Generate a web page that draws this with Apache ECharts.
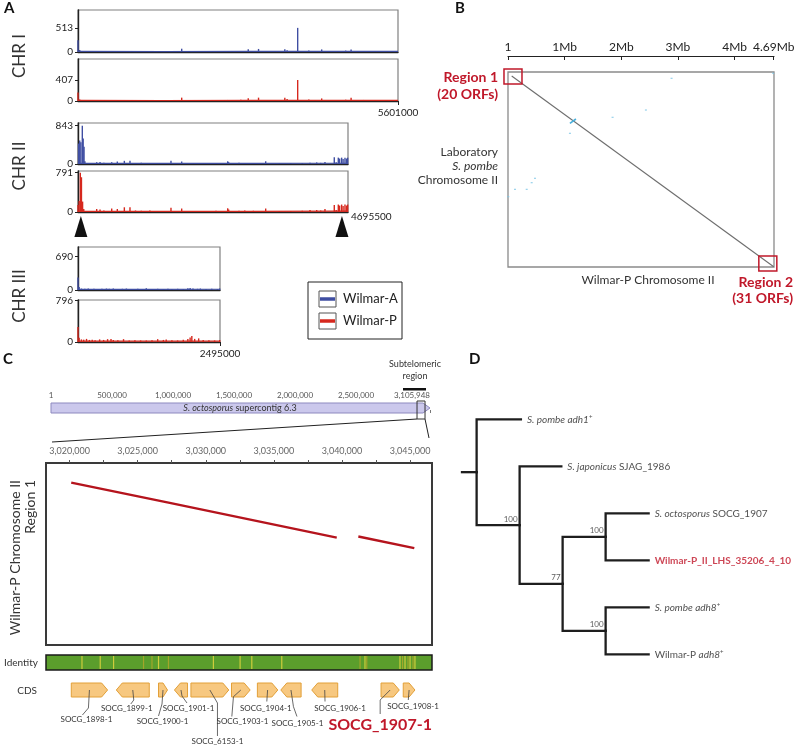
<!DOCTYPE html>
<html><head><meta charset="utf-8">
<script src="https://cdn.jsdelivr.net/npm/echarts@6/dist/echarts.min.js"></script>
<style>html,body{margin:0;padding:0;background:#fff}#c{width:799px;height:747px}</style>
</head><body><div id="c"></div>
<script>
// ================= DATA =================
// ---- Panel A: read depth spikes, [position (Mb), depth] ----
const chrLengthsMb = [5.601, 4.6955, 2.495];
const chrEndLabels = ['5601000', '4695500', '2495000'];
const chrNames = ['CHR I', 'CHR II', 'CHR III'];
// order: CHR I A, CHR I P, CHR II A, CHR II P, CHR III A, CHR III P
const depthLabelValues = [513, 407, 843, 791, 690, 796];
const depthAxisMax = [893, 814, 903, 826, 889, 809];
const strainNames = ['Wilmar-A', 'Wilmar-P'];

const chrI_A = [[0.00,250],[0.03,40],[0.2,10],[0.45,8],[0.7,10],[0.95,8],[1.2,10],[1.45,8],[1.65,10],[1.815,70],[1.95,10],[2.15,12],[2.35,10],[2.55,15],[2.62,18],[2.7,12],[2.85,20],[2.98,60],[3.05,15],[3.16,65],[3.3,15],[3.45,12],[3.62,60],[3.66,35],[3.845,513],[3.9,20],[4.04,30],[4.15,12],[4.265,55],[4.4,15],[4.55,18],[4.685,30],[4.78,55],[4.9,15],[5.0,18],[5.1,15],[5.2,18],[5.3,15],[5.4,12],[5.5,15],[5.58,18]];
const chrI_P = [[0.00,165],[0.03,30],[0.2,12],[0.45,10],[0.7,10],[0.95,10],[1.2,12],[1.45,10],[1.65,12],[1.815,65],[1.95,12],[2.15,15],[2.35,12],[2.55,18],[2.62,20],[2.7,15],[2.85,25],[2.98,55],[3.05,18],[3.16,65],[3.3,18],[3.45,15],[3.62,65],[3.66,40],[3.845,407],[3.9,20],[4.04,30],[4.15,15],[4.265,50],[4.4,18],[4.55,20],[4.685,25],[4.78,65],[4.9,18],[5.0,20],[5.1,18],[5.2,20],[5.3,18],[5.4,15],[5.5,18],[5.58,20]];
const chrII_A = [[0.01,450],[0.03,520],[0.05,480],[0.075,843],[0.09,560],[0.105,380],[0.12,60],[0.325,40],[0.383,45],[0.45,30],[0.586,40],[0.684,55],[0.806,70],[0.904,70],[1.0,20],[1.1,25],[1.25,20],[1.4,15],[1.617,70],[1.803,55],[2.0,20],[2.2,15],[2.4,20],[2.603,60],[2.62,40],[2.8,25],[2.9,20],[3.05,20],[3.264,60],[3.5,15],[3.7,20],[3.9,20],[4.035,30],[4.151,35],[4.22,25],[4.295,45],[4.457,150],[4.49,40],[4.527,140],[4.55,120],[4.585,140],[4.61,110],[4.643,140],[4.67,120],[4.69,140]];
const chrII_P = [[0.0,140],[0.02,220],[0.04,791],[0.06,700],[0.08,210],[0.1,60],[0.325,60],[0.383,50],[0.45,30],[0.586,70],[0.684,60],[0.806,95],[0.904,95],[1.0,30],[1.1,25],[1.25,30],[1.4,20],[1.617,85],[1.803,70],[2.0,20],[2.2,20],[2.4,25],[2.603,75],[2.62,50],[2.8,25],[2.9,30],[3.05,25],[3.264,70],[3.5,20],[3.7,20],[3.9,25],[4.035,40],[4.151,40],[4.22,30],[4.295,60],[4.457,140],[4.49,40],[4.527,150],[4.55,130],[4.585,150],[4.61,120],[4.643,150],[4.67,130],[4.69,150]];
const chrIII_A = [[0.0,260],[0.02,60],[0.06,30],[0.12,25],[0.18,30],[0.22,20],[0.28,25],[0.35,20],[0.42,25],[0.5,30],[0.55,25],[0.62,30],[0.7,20],[0.78,25],[0.85,30],[0.95,20],[1.05,25],[1.15,20],[1.2,35],[1.3,20],[1.4,25],[1.5,20],[1.58,25],[1.65,20],[1.75,25],[1.85,20],[1.93,35],[1.97,40],[2.02,30],[2.1,25],[2.15,30],[2.25,20],[2.35,25],[2.45,20],[2.49,30]];
const chrIII_P = [[0.0,290],[0.02,80],[0.06,50],[0.1,45],[0.15,60],[0.2,40],[0.25,45],[0.3,35],[0.38,50],[0.45,40],[0.52,55],[0.58,60],[0.62,40],[0.7,35],[0.8,55],[0.9,30],[1.0,35],[1.1,30],[1.2,30],[1.3,35],[1.4,55],[1.5,40],[1.55,50],[1.65,35],[1.75,30],[1.85,45],[1.93,60],[1.97,85],[2.0,115],[2.05,60],[2.12,70],[2.2,40],[2.3,35],[2.4,30],[2.49,40]];
// low background depth along each chromosome
const chrI_A_floor = [[0,12],[1.5,10],[3,12],[4.5,14],[5.601,14]];
const chrI_P_floor = [[0,12],[1.5,10],[3,12],[4.5,14],[5.601,14]];
const chrII_A_floor = [[0,14],[1.5,12],[3,12],[4.5,16],[4.6955,16]];
const chrII_P_floor = [[0,14],[1.5,12],[3,12],[4.5,16],[4.6955,16]];
const chrIII_A_floor = [[0,14],[1.2,14],[2.495,16]];
const chrIII_P_floor = [[0,16],[1.2,16],[2.495,18]];
const chrIIRegionMarksMb = [0.05, 4.59];

// ---- Panel B: dot plot (Wilmar-P chr II Mb vs lab S. pombe chr II Mb) ----
const wilmarChrIIMb = 4.695, labChrIIMb = 4.54;
const dotTickValues = [0, 1, 2, 3, 4, 4.69];
const dotTickLabels = ['1', '1Mb', '2Mb', '3Mb', '4Mb', '4.69Mb'];
const dotDiagonal = [[0.065,0.093],[4.69,4.533]];
const dotInversion = [[1.093,1.194],[1.199,1.094]];
const dotScatter = [[2.887,0.147],[4.68,0.03],[2.434,0.885],[1.846,1.055],[1.093,1.428],[0.123,2.732],[0.33,2.732],[0.476,2.475],[0.418,2.577],[0.005,2.903]];
const dotRegionCenters = [[0.088,0.105],[4.586,4.459]];
const dotRegionNames = ['Region 1', 'Region 2'];
const dotRegionOrfs = [20, 31];

// ---- Panel C ----
const supercontigLen = 3105948;
const supercontigTicks = [1, 500000, 1000000, 1500000, 2000000, 2500000, 3105948];
const regionStart = 3018268, regionEnd = 3046612;
const zoomTickValues = [3020000,3022500,3025000,3027500,3030000,3032500,3035000,3037500,3040000,3042500,3045000];
const zoomLabelValues = [3020000,3025000,3030000,3035000,3040000,3045000];
const alignment1 = [[3020120,5.4],[3027263,10.9],[3039618,20.5]];
const alignment2 = [[3041203,20.2],[3045312,23.4]];
// identity dips: [position, level(1 light, 2 dark)]
const identityStripes = [[3020910,1],[3022250,1],[3023230,1],[3025430,2],[3026050,2],[3026530,1],[3027260,2],[3030560,1],[3032520,1],[3033380,1],[3035580,1],[3041330,2],[3041690,1],[3041820,2],[3044260,1],[3044450,2],[3044630,1],[3044850,2],[3045000,1],[3045220,2],[3045360,1]];
// [name, start, end, strand]
const cdsGenes = [
  ['SOCG_1898-1',3020125,3022790,1],
  ['SOCG_1899-1',3023430,3025850,-1],
  ['SOCG_1900-1',3026530,3027190,1],
  ['SOCG_1901-1',3027700,3028660,-1],
  ['SOCG_6153-1',3028910,3031690,1],
  ['SOCG_1903-1',3031890,3033260,1],
  ['SOCG_1904-1',3033790,3035290,1],
  ['SOCG_1905-1',3035510,3037000,-1],
  ['SOCG_1906-1',3037780,3039690,-1],
  ['SOCG_1907-1',3042870,3044210,1],
  ['SOCG_1908-1',3044500,3045360,1]
];
const highlightGene = 'SOCG_1907-1';

// ---- Panel D: tree ----
const treeNodes = [
  {id:'n0', parent:null, len:0.34},
  {id:'adh1', parent:'n0', len:1.03, label:'{i|S. pombe adh1}{s|+}'},
  {id:'n1', parent:'n0', len:1.0, boot:100},
  {id:'jap', parent:'n1', len:0.97, label:'{i|S. japonicus} SJAG_1986'},
  {id:'n2', parent:'n1', len:1.0, boot:77},
  {id:'n3', parent:'n2', len:1.0, boot:100},
  {id:'octo', parent:'n3', len:1.0, label:'{i|S. octosporus} SOCG_1907'},
  {id:'wil', parent:'n3', len:1.0, label:'{b|Wilmar-P_II_LHS_35206_4_10}'},
  {id:'n4', parent:'n2', len:1.0, boot:100},
  {id:'adh8', parent:'n4', len:1.0, label:'{i|S. pombe adh8}{s|+}'},
  {id:'wadh8', parent:'n4', len:1.0, label:'Wilmar-P {i|adh8}{s|+}'}
];

// ================= LAYOUT / STYLE =================
const FONT = 'Lato';
const blue = '#3f4ea2', red = '#d6281e', darkRed = '#c0182a';
const trackBoxes = [
  {left:78, top:10, width:320, height:42},
  {left:78, top:59, width:320, height:42},
  {left:78, top:123, width:270, height:41},
  {left:78, top:171, width:270, height:41},
  {left:78, top:247, width:142, height:43},
  {left:78, top:300, width:142, height:42}
];
const cdsLabelLayout = [
  {p1:[-1,18], p2:[-7,25], l:[-3,29]},
  {p1:[1,10], p2:[-2,14], l:[-6,18]},
  {p1:[-1,14], p2:[-4.5,26], l:[-0.5,31.5]},
  {p1:[1,6], p2:[6,13], l:[7.5,18]},
  {p1:[7.6,13], p2:[7.6,46], l:[7.6,51.5]},
  {p1:[-7.4,6.7], p2:[-9,26.5], l:[1.6,31.5]},
  {p1:[-0.8,11.5], p2:[-0.8,11.5], l:[-1.8,18]},
  {p1:[2.5,16.7], p2:[6,26.5], l:[6.5,33]},
  {p1:[0.3,11.5], p2:[0.3,11.5], l:[15.3,18]},
  {p1:[-10,10], p2:[-10,24], l:[-10,35]},
  {p1:[-0.8,10], p2:[-0.8,10], l:[4,16.5]}
];

const chart = echarts.init(document.getElementById('c'), null, {width:799, height:747});
const grids = [], xAxes = [], yAxes = [], series = [];
const noSplit = {show:false};

// ---------- Panel A ----------
const tracks = [
  {data:chrI_A, floor:chrI_A_floor, color:blue, chr:0},
  {data:chrI_P, floor:chrI_P_floor, color:red, chr:0, end:true},
  {data:chrII_A, floor:chrII_A_floor, color:blue, chr:1},
  {data:chrII_P, floor:chrII_P_floor, color:red, chr:1, end:true},
  {data:chrIII_A, floor:chrIII_A_floor, color:blue, chr:2},
  {data:chrIII_P, floor:chrIII_P_floor, color:red, chr:2, end:true}
];
tracks.forEach((t, i) => {
  grids.push(Object.assign({show:true, borderColor:'#808080', borderWidth:1.2, outerBoundsMode:'none', containLabel:false}, trackBoxes[i]));
  const len = chrLengthsMb[t.chr];
  const isII = t.chr === 1;
  xAxes.push({gridIndex:i, type:'value', min:0, max:len, position:'bottom',
    axisLine:{show:true, onZero:false, lineStyle:{color:'#222', width:1.4}},
    axisTick:{show:!!t.end && !isII, length:4, customValues:[len], lineStyle:{color:'#222'}},
    axisLabel:{show:!!t.end, customValues:[len], formatter:() => chrEndLabels[t.chr], fontSize:10, fontFamily:FONT, color:'#222',
      margin: isII ? 0 : 7, align: isII ? 'left' : 'center', padding: isII ? [0,0,0,3] : 0},
    splitLine:noSplit});
  yAxes.push({gridIndex:i, type:'value', min:0, max:depthAxisMax[i],
    axisLine:{show:true, onZero:false, lineStyle:{color:'#222', width:1.4}},
    axisTick:{show:true, length:3, customValues:[0, depthLabelValues[i]], lineStyle:{color:'#222'}},
    axisLabel:{customValues:[0, depthLabelValues[i]], fontSize:10, fontFamily:FONT, color:'#222', margin:5},
    splitLine:noSplit});
  series.push({type:'line', xAxisIndex:i, yAxisIndex:i, data:t.floor, symbol:'none', silent:true,
    lineStyle:{color:t.color, width:1.2}, z:3});
  series.push({type:'bar', xAxisIndex:i, yAxisIndex:i, data:t.data, barWidth:1.4, silent:true,
    itemStyle:{color:t.color}, z:4});
});

// ---------- Panel B (grid 6) ----------
grids.push({left:508, top:72, width:266, height:195, show:true, borderColor:'#8a8a8a', borderWidth:1.3, outerBoundsMode:'none', containLabel:false});
xAxes.push({gridIndex:6, type:'value', min:0, max:wilmarChrIIMb, position:'top', offset:16,
  axisLine:{show:true, onZero:false, lineStyle:{color:'#222', width:1.2}},
  axisTick:{show:true, inside:true, length:4, customValues:dotTickValues, lineStyle:{color:'#222'}},
  axisLabel:{customValues:dotTickValues, formatter:(v) => dotTickLabels[dotTickValues.indexOf(v)] || '', fontSize:12, fontFamily:FONT, color:'#222', margin:3},
  splitLine:noSplit});
yAxes.push({gridIndex:6, type:'value', min:0, max:labChrIIMb, inverse:true, show:false, splitLine:noSplit});
series.push({type:'line', xAxisIndex:6, yAxisIndex:6, data:dotDiagonal, symbol:'none', silent:true, lineStyle:{color:'#6e6e6e', width:1.1}});
series.push({type:'line', xAxisIndex:6, yAxisIndex:6, data:dotInversion, symbol:'none', silent:true, lineStyle:{color:'#48b0dc', width:1.6}});
series.push({type:'scatter', xAxisIndex:6, yAxisIndex:6, data:dotScatter, symbol:'rect', symbolSize:[2,1.2], silent:true, itemStyle:{color:'#7cc6e6'}});
series.push({type:'custom', xAxisIndex:6, yAxisIndex:6, data:dotRegionCenters, silent:true, clip:false, z:5,
  renderItem:(p, api) => {
    const c = api.coord([api.value(0), api.value(1)]);
    return {type:'rect', shape:{x:c[0]-9, y:c[1]-7.5, width:18, height:15}, style:{fill:null, stroke:darkRed, lineWidth:1.5}};
  }});

// ---------- Panel C supercontig (grid 7) ----------
grids.push({left:51, top:403, width:379, height:10, outerBoundsMode:'none', containLabel:false});
xAxes.push({gridIndex:7, type:'value', min:1, max:supercontigLen, position:'top',
  axisLine:{show:false},
  axisTick:{show:true, length:3, customValues:supercontigTicks, lineStyle:{color:'#777'}},
  axisLabel:{customValues:supercontigTicks, formatter:(v) => Math.round(v).toLocaleString('en-US'), fontSize:8, fontFamily:FONT, color:'#555', margin:4, alignMaxLabel:'right'},
  splitLine:noSplit});
yAxes.push({gridIndex:7, type:'value', min:0, max:1, show:false, splitLine:noSplit});
series.push({type:'custom', xAxisIndex:7, yAxisIndex:7, data:[[1, supercontigLen, 0],[regionStart, regionEnd, 1]], silent:true, clip:false,
  renderItem:(p, api) => {
    const cs = p.coordSys;
    const s = api.coord([api.value(0), 0])[0], e = api.coord([api.value(1), 0])[0];
    if (api.value(2) === 0) {
      const yt = cs.y, yb = cs.y + cs.height, yc = (yt + yb) / 2;
      return {type:'polygon', shape:{points:[[s,yt],[e-7,yt],[e,yc],[e-7,yb],[s,yb]]}, style:{fill:'#cbc8ec', stroke:'#8d89bf', lineWidth:1}};
    }
    const c = (s + e) / 2, h = Math.max(4, (e - s) / 2);
    return {type:'rect', z2:5, shape:{x:c-h, y:cs.y-2, width:2*h, height:cs.height+8}, style:{fill:null, stroke:'#333', lineWidth:1}};
  }});

// ---------- Panel C zoom (grid 8) ----------
grids.push({left:46, top:463, width:386, height:182, show:true, borderColor:'#3a3a3a', borderWidth:2, outerBoundsMode:'none', containLabel:false});
xAxes.push({gridIndex:8, type:'value', min:regionStart, max:regionEnd, position:'top',
  axisLine:{show:false},
  axisTick:{show:true, length:3, customValues:zoomTickValues, lineStyle:{color:'#555'}},
  axisLabel:{customValues:zoomLabelValues, formatter:(v) => v.toLocaleString('en-US'), fontSize:9, fontFamily:FONT, color:'#666', margin:7},
  splitLine:noSplit});
yAxes.push({gridIndex:8, type:'value', min:0, max:50, inverse:true, show:false, splitLine:noSplit});
[alignment1, alignment2].forEach(a => series.push({type:'line', xAxisIndex:8, yAxisIndex:8, data:a, symbol:'none', silent:true, lineStyle:{color:'#b5141d', width:2.4}}));

// ---------- Identity (grid 9) ----------
grids.push({left:46, top:655, width:386, height:15, show:true, backgroundColor:'#5b9e2c', borderColor:'#1a1a1a', borderWidth:1.5, outerBoundsMode:'none', containLabel:false});
xAxes.push({gridIndex:9, type:'value', min:regionStart, max:regionEnd, show:false, splitLine:noSplit});
yAxes.push({gridIndex:9, type:'value', min:0, max:1, show:false, splitLine:noSplit});
series.push({type:'custom', xAxisIndex:9, yAxisIndex:9, data:identityStripes, silent:true,
  renderItem:(p, api) => {
    const cs = p.coordSys; const x = api.coord([api.value(0), 0])[0];
    return {type:'rect', shape:{x:x-0.6, y:cs.y+1, width:1.2, height:cs.height-2}, style:{fill: api.value(1) === 2 ? '#a3a52a' : '#cfcc3c'}};
  }});

// ---------- CDS (grid 10) ----------
grids.push({left:46, top:683, width:386, height:14, outerBoundsMode:'none', containLabel:false});
xAxes.push({gridIndex:10, type:'value', min:regionStart, max:regionEnd, show:false, splitLine:noSplit});
yAxes.push({gridIndex:10, type:'value', min:0, max:1, show:false, splitLine:noSplit});
series.push({type:'custom', xAxisIndex:10, yAxisIndex:10, data:cdsGenes.map(g => [g[1], g[2], g[3]]), silent:true, clip:false,
  renderItem:(p, api) => {
    const cs = p.coordSys; const i = p.dataIndex;
    const s = api.coord([api.value(0), 0])[0], e = api.coord([api.value(1), 0])[0];
    const yt = cs.y, yb = cs.y + cs.height, yc = (yt + yb) / 2;
    const head = Math.min(6, (e - s) * 0.5);
    const pts = api.value(2) > 0
      ? [[s,yt],[e-head,yt],[e,yc],[e-head,yb],[s,yb]]
      : [[e,yt],[s+head,yt],[s,yc],[s+head,yb],[e,yb]];
    const cx = (s + e) / 2, L = cdsLabelLayout[i], name = cdsGenes[i][0];
    const hi = name === highlightGene;
    return {type:'group', children:[
      {type:'polygon', z2:1, shape:{points:pts}, style:{fill:'#f7c880', stroke:'#e2a039', lineWidth:1}},
      {type:'polyline', z2:2, shape:{points:[[cx,yc],[cx+L.p1[0], yc+L.p1[1]],[cx+L.p2[0], yc+L.p2[1]]]}, style:{stroke:'#444', lineWidth:0.8, fill:null}},
      {type:'text', z2:3, x:cx+L.l[0], y:yc+L.l[1], style:{text:name, font: hi ? `bold 16px ${FONT}` : `8px ${FONT}`, fill: hi ? darkRed : '#333',
        align:'center', verticalAlign:'middle', textAlign:'center', textVerticalAlign:'middle'}}
    ]};
  }});

// ---------- Panel D tree (grid 11) ----------
const byId = {}; treeNodes.forEach(n => { byId[n.id] = Object.assign({children:[]}, n); });
treeNodes.forEach(n => { if (n.parent) byId[n.parent].children.push(byId[n.id]); });
let leafCount = 0;
(function lay(n, px) {
  n.x = px + n.len;
  if (!n.children.length) { n.y = leafCount++; return; }
  n.children.forEach(c => lay(c, n.x));
  n.y = (n.children[0].y + n.children[n.children.length-1].y) / 2;
})(byId['n0'], 0);
const treeSegs = [[0, byId.n0.y, byId.n0.y, byId.n0.x]];
treeNodes.forEach(n => { if (n.parent) { const p = byId[n.parent], c = byId[n.id]; treeSegs.push([p.x, p.y, c.y, c.x]); } });
const leaves = treeNodes.filter(n => n.label).map(n => byId[n.id]);
const boots = treeNodes.filter(n => n.boot).map(n => byId[n.id]);

grids.push({left:462, top:419.3, width:200, height:235, outerBoundsMode:'none', containLabel:false});
xAxes.push({gridIndex:11, type:'value', min:0, max:4.651, show:false, splitLine:noSplit});
yAxes.push({gridIndex:11, type:'value', min:0, max:5, inverse:true, show:false, splitLine:noSplit});
series.push({type:'custom', xAxisIndex:11, yAxisIndex:11, data:treeSegs, silent:true, clip:false,
  renderItem:(p, api) => {
    const a = api.coord([api.value(0), api.value(1)]);
    const b = api.coord([api.value(0), api.value(2)]);
    const c = api.coord([api.value(3), api.value(2)]);
    return {type:'polyline', shape:{points:[a,b,c]}, style:{stroke:'#1e1e1e', lineWidth:2.3, fill:null, lineJoin:'miter', lineCap:'square'}};
  }});
series.push({type:'scatter', xAxisIndex:11, yAxisIndex:11, data:leaves.map(n => [n.x, n.y]), symbolSize:0, silent:true,
  label:{show:true, position:'right', distance:6, formatter:(p) => leaves[p.dataIndex].label, fontSize:10, fontFamily:FONT, color:'#222',
    rich:{i:{fontStyle:'italic', fontSize:10, fontFamily:FONT, color:'#222'}, s:{fontSize:6, fontFamily:FONT, color:'#222', verticalAlign:'top', padding:[0,0,4,0]},
      b:{fontWeight:'bold', fontSize:10, fontFamily:FONT, color:darkRed}}}});
series.push({type:'scatter', xAxisIndex:11, yAxisIndex:11, data:boots.map(n => [n.x, n.y]), symbolSize:0, silent:true,
  label:{show:true, position:'left', distance:2, offset:[0,-6], formatter:(p) => String(boots[p.dataIndex].boot), fontSize:8, fontFamily:FONT, color:'#333'}});

chart.setOption({animation:false, backgroundColor:'#fff', textStyle:{fontFamily:FONT}, grid:grids, xAxis:xAxes, yAxis:yAxes, series:series});

// ================= ANNOTATIONS =================
function T(x, y, text, font, fill, align, va, extra) {
  return Object.assign({type:'text', x, y, silent:true, z:50,
    style:{text, font, fill: fill || '#222', align: align || 'left', verticalAlign: va || 'middle', textAlign: align || 'left', textVerticalAlign: va || 'middle'}}, extra || {});
}
const g = [];
// panel letters
g.push(T(4, 8, 'A', `bold 15px ${FONT}`, '#111'), T(455, 8, 'B', `bold 15px ${FONT}`, '#111'),
       T(3, 359, 'C', `bold 15px ${FONT}`, '#111'), T(469, 359, 'D', `bold 15px ${FONT}`, '#111'));
// chromosome names
const chrLabelY = [56, 166, 296];
chrNames.forEach((n, i) => g.push(T(20, chrLabelY[i], n, `17px ${FONT}`, '#333', 'center', 'middle', {rotation:Math.PI/2})));
// region arrows under CHR II
chrIIRegionMarksMb.forEach(m => {
  const px = chart.convertToPixel({gridIndex:3}, [m, 0]);
  g.push({type:'polygon', silent:true, z:50, shape:{points:[[px[0], px[1]+4],[px[0]-6.5, px[1]+25],[px[0]+6.5, px[1]+25]]}, style:{fill:'#111'}});
});
// legend
g.push({type:'rect', silent:true, z:50, shape:{x:308, y:282, width:94, height:57}, style:{fill:'#fff', stroke:'#222', lineWidth:1}});
[blue, red].forEach((col, i) => {
  const y = 291 + i * 22;
  g.push({type:'rect', silent:true, z:51, shape:{x:319, y, width:17, height:16}, style:{fill:'#fff', stroke:'#555', lineWidth:1}});
  g.push({type:'line', silent:true, z:52, shape:{x1:320, y1:y+8, x2:335, y2:y+8}, style:{stroke:col, lineWidth:3.5}});
  g.push(T(343, y+8, strainNames[i], `13px ${FONT}`, '#222', 'left', 'middle', {z:52}));
});
// panel B texts
g.push(T(498, 77, dotRegionNames[0], `bold 14px ${FONT}`, darkRed, 'right'), T(498, 94, `(${dotRegionOrfs[0]} ORFs)`, `bold 14px ${FONT}`, darkRed, 'right'));
g.push(T(793, 282, dotRegionNames[1], `bold 14px ${FONT}`, darkRed, 'right'), T(793, 298, `(${dotRegionOrfs[1]} ORFs)`, `bold 14px ${FONT}`, darkRed, 'right'));
g.push(T(498, 152, 'Laboratory', `12px ${FONT}`, '#333', 'right'), T(498, 166, 'S. pombe', `italic 12px ${FONT}`, '#333', 'right'), T(498, 180, 'Chromosome II', `12px ${FONT}`, '#333', 'right'));
g.push(T(648, 280, 'Wilmar-P Chromosome II', `12px ${FONT}`, '#333', 'center'));
// panel C texts
g.push(T(415, 364, 'Subtelomeric', `9px ${FONT}`, '#333', 'center'), T(415, 376, 'region', `9px ${FONT}`, '#333', 'center'));
g.push({type:'rect', silent:true, z:50, shape:{x:403, y:388, width:23, height:2.5}, style:{fill:'#111'}});
g.push({type:'text', silent:true, z:50, x:240, y:408, style:{text:'{i|S. octosporus} supercontig 6.3', font:`9px ${FONT}`, fill:'#333', align:'center', verticalAlign:'middle', textAlign:'center', textVerticalAlign:'middle',
  rich:{i:{fontStyle:'italic', fontSize:9, fontFamily:FONT, fill:'#333', color:'#333'}}}});
g.push(T(15, 480, 'Wilmar-P Chromosome II', `14px ${FONT}`, '#333', 'right', 'middle', {rotation:Math.PI/2}));
g.push(T(30, 480, 'Region 1', `14px ${FONT}`, '#333', 'right', 'middle', {rotation:Math.PI/2}));
g.push(T(38, 663, 'Identity', `10px ${FONT}`, '#333', 'right'), T(37, 691, 'CDS', `10px ${FONT}`, '#333', 'right'));
// zoom connector lines
const zl = chart.convertToPixel({gridIndex:7}, [regionStart, 0])[0], zr = chart.convertToPixel({gridIndex:7}, [regionEnd, 0])[0];
const zc = (zl + zr) / 2, zh = Math.max(4, (zr - zl) / 2);
const gl = chart.convertToPixel({gridIndex:8}, [regionStart, 0])[0], gr = chart.convertToPixel({gridIndex:8}, [regionEnd, 0])[0];
g.push({type:'line', silent:true, z:50, shape:{x1:zc-zh, y1:419, x2:gl+6, y2:442}, style:{stroke:'#222', lineWidth:1}});
g.push({type:'line', silent:true, z:50, shape:{x1:zc+zh, y1:419, x2:gr-3, y2:438}, style:{stroke:'#222', lineWidth:1}});

chart.setOption({graphic:{elements:g}});
</script></body></html>
